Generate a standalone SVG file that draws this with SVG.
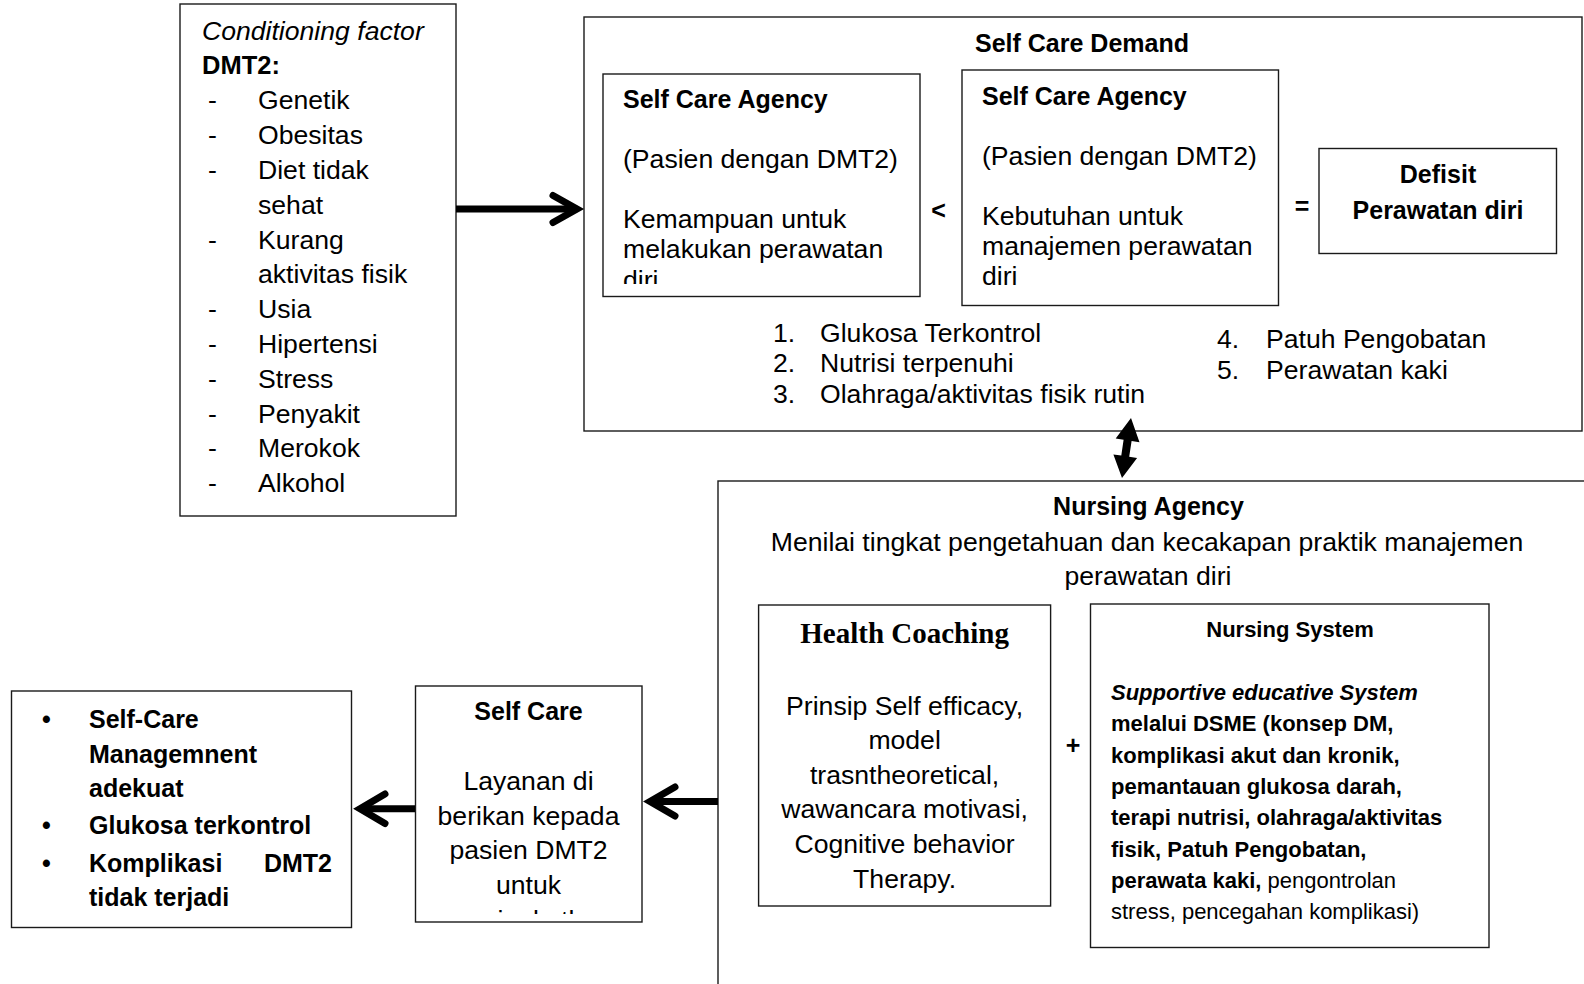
<svg xmlns="http://www.w3.org/2000/svg" width="1584" height="984" viewBox="0 0 1584 984">
<style>
.box{fill:#fff;stroke:#1a1a1a;stroke-width:1.4}
text{font-family:"Liberation Sans",Arial,sans-serif;font-size:26.6px;fill:#000}
.b{font-weight:bold;font-size:25px}
.i{font-style:italic}
.c{text-anchor:middle}
.e{text-anchor:end}
.ns{font-size:22px;font-weight:bold}
.nr{font-size:22px;font-weight:normal}
.serif{font-family:"Liberation Serif","Times New Roman",serif;font-weight:bold;font-size:29px}
.arr{fill:none;stroke:#000;stroke-width:7}
.chev{fill:none;stroke:#000;stroke-width:7;stroke-linecap:round;stroke-linejoin:miter;stroke-miterlimit:10}
</style>
<defs>
<clipPath id="clipSca1"><rect x="604" y="75" width="316" height="209"/></clipPath>
<clipPath id="clipSc"><rect x="416" y="687" width="226" height="227"/></clipPath>
</defs>
<rect width="1584" height="984" fill="#fff"/>

<g id="conditioning">
<rect class="box" x="180" y="4" width="276" height="512"/>
<text x="202" y="39.5" class="i">Conditioning factor</text>
<text x="202" y="74" class="b" style="font-size:25.5px">DMT2:</text>
<text x="208" y="109.3">-</text><text x="258" y="109.3">Genetik</text>
<text x="208" y="144.1">-</text><text x="258" y="144.1">Obesitas</text>
<text x="208" y="178.9">-</text><text x="258" y="178.9">Diet tidak</text>
<text x="258" y="213.7">sehat</text>
<text x="208" y="248.5">-</text><text x="258" y="248.5">Kurang</text>
<text x="258" y="283.3">aktivitas fisik</text>
<text x="208" y="318.1">-</text><text x="258" y="318.1">Usia</text>
<text x="208" y="352.9">-</text><text x="258" y="352.9">Hipertensi</text>
<text x="208" y="387.7">-</text><text x="258" y="387.7">Stress</text>
<text x="208" y="422.5">-</text><text x="258" y="422.5">Penyakit</text>
<text x="208" y="457.3">-</text><text x="258" y="457.3">Merokok</text>
<text x="208" y="492.1">-</text><text x="258" y="492.1">Alkohol</text>
</g>

<g id="self-care-demand">
<rect class="box" x="584" y="17" width="998" height="414"/>
<text x="1082" y="51.5" class="b c">Self Care Demand</text>
<text x="773" y="341.7">1.</text><text x="820" y="341.7">Glukosa Terkontrol</text>
<text x="773" y="372">2.</text><text x="820" y="372">Nutrisi terpenuhi</text>
<text x="773" y="402.5">3.</text><text x="820" y="402.5">Olahraga/aktivitas fisik rutin</text>
<text x="1217" y="348.3">4.</text><text x="1266" y="348.3">Patuh Pengobatan</text>
<text x="1217" y="379">5.</text><text x="1266" y="379">Perawatan kaki</text>
<text x="938.5" y="219" class="b c">&lt;</text>
<text x="1302" y="215" class="b c">=</text>
</g>

<g id="sca-ability">
<rect class="box" x="603" y="74" width="317" height="222.5"/>
<text x="623" y="108" class="b">Self Care Agency</text>
<g clip-path="url(#clipSca1)">
<text x="623" y="168.3">(Pasien dengan DMT2)</text>
<text x="623" y="228.3">Kemampuan untuk</text>
<text x="623" y="258.3">melakukan perawatan</text>
<text x="623" y="289">diri</text>
</g>
</g>

<g id="sca-need">
<rect class="box" x="962" y="70" width="316.5" height="235.5"/>
<text x="982" y="104.5" class="b">Self Care Agency</text>
<text x="982" y="165">(Pasien dengan DMT2)</text>
<text x="982" y="225">Kebutuhan untuk</text>
<text x="982" y="255">manajemen perawatan</text>
<text x="982" y="285">diri</text>
</g>

<g id="defisit">
<rect class="box" x="1319" y="148.5" width="237.5" height="105"/>
<text x="1438" y="183.3" class="b c">Defisit</text>
<text x="1438" y="219.3" class="b c">Perawatan diri</text>
</g>

<g id="nursing-agency">
<rect class="box" x="718" y="481" width="1000" height="600"/>
<text x="1148.5" y="515" class="b c">Nursing Agency</text>
<text x="1147" y="550.5" class="c">Menilai tingkat pengetahuan dan kecakapan praktik manajemen</text>
<text x="1148" y="585" class="c">perawatan diri</text>
<text x="1073" y="753.5" class="b c">+</text>
</g>

<g id="health-coaching">
<rect class="box" x="758.6" y="605" width="292" height="301"/>
<text x="904.6" y="643" class="serif c">Health Coaching</text>
<text x="904.6" y="714.5" class="c">Prinsip Self efficacy,</text>
<text x="904.6" y="749.1" class="c">model</text>
<text x="904.6" y="783.7" class="c">trasntheoretical,</text>
<text x="904.6" y="818.3" class="c">wawancara motivasi,</text>
<text x="904.6" y="852.9" class="c">Cognitive behavior</text>
<text x="904.6" y="887.5" class="c">Therapy.</text>
</g>

<g id="nursing-system">
<rect class="box" x="1090.5" y="604" width="398.5" height="343.5"/>
<text x="1290" y="636.7" class="ns c">Nursing System</text>
<text x="1111" y="700" class="ns i">Supportive educative System</text>
<text x="1111" y="731.3" class="ns">melalui DSME (konsep DM,</text>
<text x="1111" y="762.6" class="ns">komplikasi akut dan kronik,</text>
<text x="1111" y="793.9" class="ns">pemantauan glukosa darah,</text>
<text x="1111" y="825.2" class="ns">terapi nutrisi, olahraga/aktivitas</text>
<text x="1111" y="856.5" class="ns">fisik, Patuh Pengobatan,</text>
<text x="1111" y="887.8" class="ns">perawata kaki,<tspan class="nr"> pengontrolan</tspan></text>
<text x="1111" y="919.1" class="nr">stress, pencegahan komplikasi)</text>
</g>

<g id="self-care">
<rect class="box" x="415.5" y="686" width="226.5" height="236"/>
<text x="528.5" y="720" class="b c">Self Care</text>
<g clip-path="url(#clipSc)">
<text x="528.5" y="790" class="c">Layanan di</text>
<text x="528.5" y="824.5" class="c">berikan kepada</text>
<text x="528.5" y="859" class="c">pasien DMT2</text>
<text x="528.5" y="894" class="c">untuk</text>
<text x="528.5" y="928.5" class="c">meningkatkan</text>
</g>
</g>

<g id="outcome">
<rect class="box" x="11.5" y="691" width="340" height="236.5"/>
<text x="46.5" y="728" class="b c">•</text>
<text x="89" y="728" class="b">Self-Care</text>
<text x="89" y="762.6" class="b">Managemnent</text>
<text x="89" y="797" class="b">adekuat</text>
<text x="46.5" y="834" class="b c">•</text>
<text x="89" y="834" class="b">Glukosa terkontrol</text>
<text x="46.5" y="871.7" class="b c">•</text>
<text x="89" y="871.7" class="b">Komplikasi</text>
<text x="332" y="871.7" class="b e">DMT2</text>
<text x="89" y="906" class="b">tidak terjadi</text>
</g>

<g id="connectors">
<line class="arr" x1="456" y1="209" x2="576" y2="209"/>
<polyline class="chev" points="553,195.5 577,209 553,222.5"/>
<line class="arr" x1="718" y1="801.5" x2="651" y2="801.5"/>
<polyline class="chev" points="675,787 650,801.5 675,816"/>
<line class="arr" x1="415" y1="808.7" x2="361" y2="808.7"/>
<polyline class="chev" points="385,794 360,808.7 385,823.5"/>
<polygon fill="#000" points="1131,418 1139.5,442.2 1131.6,441 1129.2,456.8 1137.1,458 1122,478 1113.4,454.4 1121.3,455.6 1123.6,439.8 1115.7,438.6"/>
</g>
</svg>
